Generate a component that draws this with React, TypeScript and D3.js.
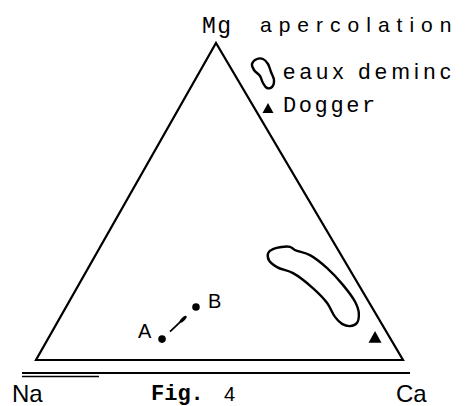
import React from "react";
import * as d3 from "d3";

// Ternary diagram Na – Ca – Mg (percentages of Ca and Mg; Na is the remainder)
const vertexLabels = ["Na", "Ca", "Mg"];

// Sample waters A and B
const sampleNames = ["A", "B"];
const sampleCa = [31.1, 35.4];
const sampleMg = [6.6, 16.7];

// Field of demineralised waters (closed outline)
const fieldCa = [46.7, 47.4, 51.7, 53.5, 58.4, 65.1, 72.0, 78.0, 80.7, 81.7, 80.3, 77.8, 74.8, 70.5, 64.3, 56.6, 51.3, 48.0];
const fieldMg = [33.8, 35.0, 35.7, 34.7, 33.1, 29.0, 23.7, 18.3, 14.8, 11.7, 10.7, 11.4, 13.6, 18.0, 22.7, 27.4, 29.3, 31.5];

// Dogger water
const doggerCa = [88.8];
const doggerMg = [7.3];

// Legend entries
const legendTitle = "apercolation";
const legendItems = ["eaux deminc", "Dogger"];
const captionFig = "Fig.";
const captionNum = "4";

const W = 465;
const H = 406;

// Corner positions of the triangle
const cNa: [number, number] = [36, 360];
const cCa: [number, number] = [403, 360];
const cMg: [number, number] = [216, 43];

// Barycentric projection built from two linear scales
const caScale = d3.scaleLinear().domain([0, 100]).range([0, 1]);
const mgScale = d3.scaleLinear().domain([0, 100]).range([0, 1]);
function project(ca: number, mg: number): [number, number] {
  const c = caScale(ca);
  const m = mgScale(mg);
  const n = 1 - c - m;
  return [
    n * cNa[0] + c * cCa[0] + m * cMg[0],
    n * cNa[1] + c * cCa[1] + m * cMg[1],
  ];
}

const mono = "'Liberation Mono', 'DejaVu Sans Mono', monospace";
const sans = "'Liberation Sans', Arial, sans-serif";

function triPath(cx: number, cy: number, s: number) {
  const h = s * 0.9;
  return `M${cx},${cy - h / 2}L${cx + s / 2},${cy + h / 2}L${cx - s / 2},${cy + h / 2}Z`;
}

export default function App() {
  const outline = d3.line<[number, number]>().curve(d3.curveLinearClosed)([
    cNa,
    cCa,
    cMg,
  ]) as string;

  const fieldPts = fieldCa.map((c, i) => project(c, fieldMg[i]));
  const fieldPath = d3
    .line<[number, number]>()
    .curve(d3.curveCatmullRomClosed.alpha(0.5))(fieldPts) as string;

  const samples = sampleNames.map((name, i) => {
    const [x, y] = project(sampleCa[i], sampleMg[i]);
    return { name, x, y };
  });
  const [a, b] = samples;
  const dx = b.x - a.x;
  const dy = b.y - a.y;
  const len = Math.hypot(dx, dy);
  const ux = dx / len;
  const uy = dy / len;
  const angle = (Math.atan2(dy, dx) * 180) / Math.PI;
  const arrowStart = [a.x + ux * 11, a.y + uy * 11];
  const arrowEnd = [a.x + ux * 32, a.y + uy * 32];
  const arrowHead = [a.x + ux * 29, a.y + uy * 29];

  // Small bean-shaped legend symbol
  const beanPts: [number, number][] = [
    [257, 59], [263, 59], [268, 64], [271, 72], [274, 80], [272, 87],
    [267, 88], [263, 83], [260, 76], [254, 70], [252, 64],
  ];
  const beanPath = d3
    .line<[number, number]>()
    .curve(d3.curveCatmullRomClosed.alpha(0.5))(beanPts) as string;

  const dogger = doggerCa.map((c, i) => project(c, doggerMg[i]));

  return (
    <svg width={W} height={H} style={{ position: "absolute", left: 0, top: 0, background: "#fff" }}>
      <rect width={W} height={H} fill="#fff" />
      <path d={outline} fill="none" stroke="#000" strokeWidth={2.2} strokeLinejoin="miter" />

      {/* base rules */}
      <line x1={22} x2={410} y1={373} y2={373} stroke="#000" strokeWidth={2} />
      <line x1={22} x2={99} y1={376.5} y2={376.5} stroke="#000" strokeWidth={1.3} />

      {/* field outline */}
      <path d={fieldPath} fill="none" stroke="#000" strokeWidth={2.4} />

      {/* Dogger */}
      {dogger.map(([x, y], i) => (
        <path key={i} d={triPath(x, y, 13)} fill="#000" />
      ))}

      {/* A -> B evolution */}
      <line x1={arrowStart[0]} y1={arrowStart[1]} x2={arrowEnd[0]} y2={arrowEnd[1]} stroke="#000" strokeWidth={1.8} />
      <ellipse
        cx={arrowHead[0]}
        cy={arrowHead[1]}
        rx={4.5}
        ry={1.8}
        fill="#000"
        transform={`rotate(${angle} ${arrowHead[0]} ${arrowHead[1]})`}
      />
      {samples.map((s) => (
        <circle key={s.name} cx={s.x} cy={s.y} r={3.8} fill="#000" />
      ))}
      <text x={a.x - 24} y={a.y - 1} fontFamily={sans} fontSize={20} fill="#000">
        {a.name}
      </text>
      <text x={b.x + 12} y={b.y + 1} fontFamily={sans} fontSize={20} fill="#000">
        {b.name}
      </text>

      {/* vertex labels */}
      <text x={12} y={402} fontFamily={sans} fontSize={24} fill="#000">
        {vertexLabels[0]}
      </text>
      <text x={396} y={402} fontFamily={sans} fontSize={24} fill="#000">
        {vertexLabels[1]}
      </text>
      <text x={202} y={33} fontFamily={mono} fontSize={23} letterSpacing={1.5} fill="#000">
        {vertexLabels[2]}
      </text>

      {/* legend */}
      <text x={260} y={32} fontFamily={sans} fontSize={21} letterSpacing={7} fill="#000">
        {legendTitle}
      </text>
      <path d={beanPath} fill="none" stroke="#000" strokeWidth={2.4} />
      <text x={283} y={79} fontFamily={sans} fontSize={22} letterSpacing={4.3} fill="#000">
        {legendItems[0]}
      </text>
      <path d={triPath(268, 108, 11)} fill="#000" />
      <text x={283} y={112} fontFamily={mono} fontSize={22} letterSpacing={2.6} fill="#000">
        {legendItems[1]}
      </text>

      {/* caption */}
      <text x={151} y={400} fontFamily={mono} fontSize={22} fontWeight="bold" fill="#000">
        {captionFig}
      </text>
      <text x={224} y={401} fontFamily={sans} fontSize={20} fill="#000">
        {captionNum}
      </text>
    </svg>
  );
}
